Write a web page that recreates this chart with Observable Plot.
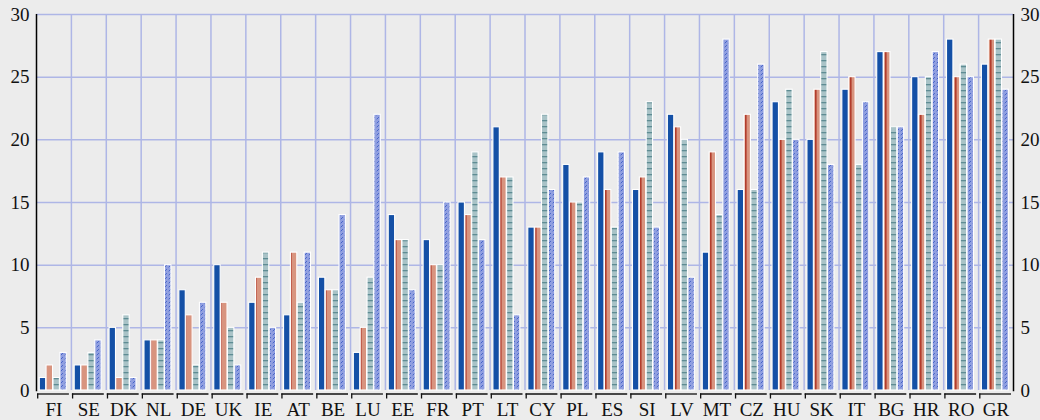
<!DOCTYPE html>
<html>
<head>
<meta charset="utf-8">
<script src="https://cdn.jsdelivr.net/npm/d3@7"></script>
<script src="https://cdn.jsdelivr.net/npm/@observablehq/plot@0.6"></script>
<style>
  html, body { margin: 0; padding: 0; background: #ececec; }
</style>
</head>
<body>
<div id="chart"></div>
<script>
const countries = ["FI","SE","DK","NL","DE","UK","IE","AT","BE","LU","EE","FR","PT","LT","CY","PL","ES","SI","LV","MT","CZ","HU","SK","IT","BG","HR","RO","GR"];
const series1 = [1,2,5,4,8,10,7,6,9,3,14,12,15,21,13,18,19,16,22,11,16,23,20,24,27,25,28,26];
const series2 = [2,2,1,4,6,7,9,11,8,5,12,10,14,17,13,15,16,17,21,19,22,20,24,25,27,22,25,28];
const series3 = [1,3,6,4,2,5,11,7,8,9,12,10,19,17,22,15,13,23,20,14,16,24,27,18,21,25,26,28];
const series4 = [3,4,1,10,7,2,5,11,14,22,8,15,12,6,16,17,19,13,9,28,26,20,18,23,21,27,25,24];
const yTicks = [0,5,10,15,20,25,30];

const W = 1040, H = 420, mL = 36, mR = 27, mT = 14, mB = 30;
const bw = (W - mL - mR) / countries.length;
const barW = 6.4, pitch = 6.85, off0 = 3.3;

const allSeries = [
  {values: series1, fill: "#1450a6"},
  {values: series2, fill: "url(#patOrange)"},
  {values: series3, fill: "url(#patTeal)"},
  {values: series4, fill: "url(#patHatch)"}
];

const grid = "#aeb6e6";
const font = "'Liberation Serif', 'DejaVu Serif', serif";
const fs = 19;

const barMarks = allSeries.map((s, k) => {
  const left = off0 + k * pitch;
  return Plot.barY(countries.map((c, i) => ({country: c, value: s.values[i]})), {
    x: "country", y: "value", fill: s.fill,
    stroke: "white", strokeWidth: 1.1,
    insetLeft: left, insetRight: bw - left - barW
  });
});

const chart = Plot.plot({
  width: W, height: H,
  marginLeft: mL, marginRight: mR, marginTop: mT, marginBottom: mB,
  style: {background: "#ececec", fontFamily: font, fontSize: fs + "px", color: "#111"},
  x: {domain: countries, padding: 0, round: false, axis: null},
  y: {domain: [0, 30], axis: null},
  marks: [
    Plot.gridY(yTicks.slice(1), {stroke: grid, strokeOpacity: 1, strokeWidth: 1.5}),
    Plot.ruleX(countries.slice(1), {x: d => d, dx: -bw / 2, stroke: grid, strokeWidth: 1.5}),
    ...barMarks,
    Plot.ruleY(countries, {x1: d => d, x2: d => d, y: () => 0, dy: 3.5, insetLeft: 1, insetRight: 2, stroke: "#111", strokeWidth: 1.3}),
    Plot.ruleX(countries, {x: d => d, dx: -bw / 2 + 1.2, y1: () => 0, y2: () => -0.4, dy: 3.5, stroke: "#111", strokeWidth: 1.3}),
    Plot.ruleX([0], {x: () => countries[0], dx: -bw / 2, y1: () => 30, y2: () => -0.1, stroke: "#000", strokeWidth: 1.5}),
    Plot.ruleX([0], {x: () => countries[countries.length - 1], dx: bw / 2, y1: () => 30, y2: () => -0.1, stroke: "#000", strokeWidth: 1.5}),
    Plot.axisY(yTicks, {anchor: "left", label: null, tickSize: 0, tickPadding: 7, fontSize: fs, fill: "#111"}),
    Plot.axisY(yTicks, {anchor: "right", label: null, tickSize: 0, tickPadding: 7, fontSize: fs, fill: "#111"}),
    Plot.axisX({anchor: "bottom", label: null, tickSize: 0, tickPadding: 12, fontSize: fs, fill: "#111"})
  ]
});

const ns = "http://www.w3.org/2000/svg";
const defs = document.createElementNS(ns, "defs");
defs.innerHTML = `
  <pattern id="patOrange" patternUnits="userSpaceOnUse" width="7" height="10">
    <rect width="7" height="10" fill="#d8947f"/>
    <rect x="3" width="1.6" height="10" fill="#b23c2c"/>
  </pattern>
  <pattern id="patTeal" patternUnits="userSpaceOnUse" width="6" height="6">
    <rect width="6" height="6" fill="#a9c3c7"/>
    <rect y="0" width="6" height="1.3" fill="#5e8c93"/>
  </pattern>
  <pattern id="patHatch" patternUnits="userSpaceOnUse" width="4" height="4">
    <rect width="4" height="4" fill="#909fe0"/>
    <line x1="0.7" y1="3.3" x2="2.9" y2="1.1" stroke="#3557c2" stroke-width="0.85"/>
  </pattern>`;
chart.insertBefore(defs, chart.firstChild);
document.getElementById("chart").appendChild(chart);
</script>
</body>
</html>
